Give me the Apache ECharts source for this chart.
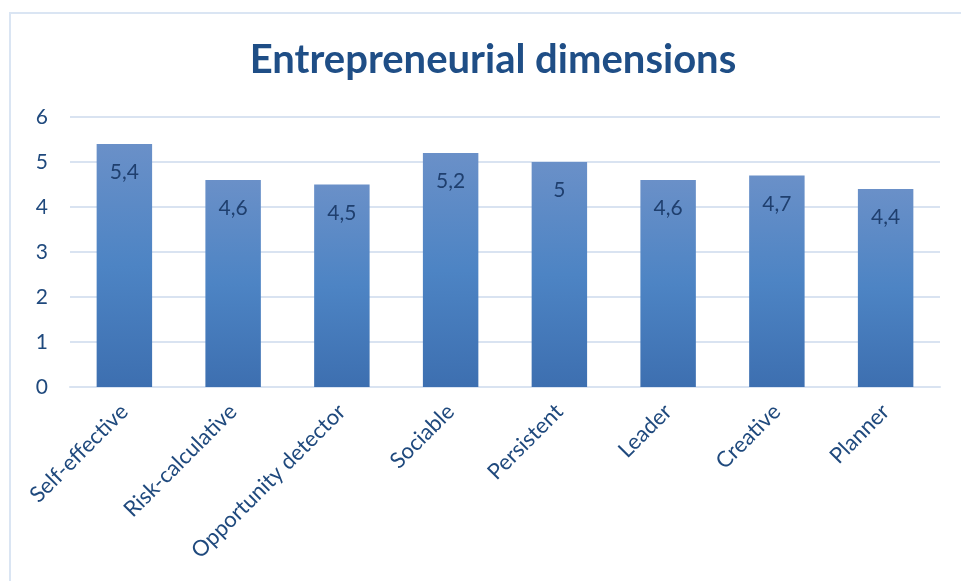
<!DOCTYPE html>
<html>
<head>
<meta charset="utf-8">
<script src="https://cdn.jsdelivr.net/npm/echarts@6/dist/echarts.min.js"></script>
<style>
html,body{margin:0;padding:0;background:#fff;}
#frame{position:absolute;left:9px;top:12px;width:1000px;height:700px;border-left:2px solid #dae5f3;border-top:2px solid #dae5f3;box-sizing:border-box;}
#chart{position:absolute;left:0;top:0;width:961px;height:581px;}
</style>
</head>
<body>
<div id="frame"></div>
<div id="chart"></div>
<script>
const categories = ["Self-effective","Risk-calculative","Opportunity detector","Sociable","Persistent","Leader","Creative","Planner"];
const values = [5.4, 4.6, 4.5, 5.2, 5, 4.6, 4.7, 4.4];
const yTicks = [0, 1, 2, 3, 4, 5, 6];

const textColor = '#1f497d';
const chart = echarts.init(document.getElementById('chart'));
chart.setOption({
  backgroundColor: 'transparent',
  animation: false,
  title: {
    text: 'Entrepreneurial dimensions',
    left: 488, top: 35, textAlign: 'center',
    textStyle: {fontFamily: 'Lato', fontWeight: 'bold', fontSize: 40, color: '#1f4e86'}
  },
  grid: {left: 70, right: 21, top: 117, bottom: 194},
  xAxis: {
    type: 'category', data: categories,
    axisTick: {show: false},
    axisLine: {lineStyle: {color: '#d9e3f1', width: 2}},
    axisLabel: {rotate: 45, interval: 0, margin: 21, fontFamily: 'Lato', fontSize: 22, color: textColor}
  },
  yAxis: {
    type: 'value', min: yTicks[0], max: yTicks[yTicks.length-1], interval: 1,
    axisLine: {show: false}, axisTick: {show: false},
    splitLine: {lineStyle: {color: '#d9e3f1', width: 2}},
    axisLabel: {margin: 22, fontFamily: 'Lato', fontSize: 21, color: textColor}
  },
  series: [{
    type: 'bar', data: values, barWidth: '51%',
    itemStyle: {color: new echarts.graphic.LinearGradient(0,0,0,1,[
      {offset: 0, color: '#6a90c8'},
      {offset: 0.5, color: '#4d84c4'},
      {offset: 1, color: '#3d6fb0'}
    ])},
    label: {show: true, position: 'insideTop', distance: 18,
      fontFamily: 'Lato', fontSize: 21, color: '#1f3f6e',
      formatter: p => String(p.value).replace('.', ',')}
  }]
});
</script>
</body>
</html>
